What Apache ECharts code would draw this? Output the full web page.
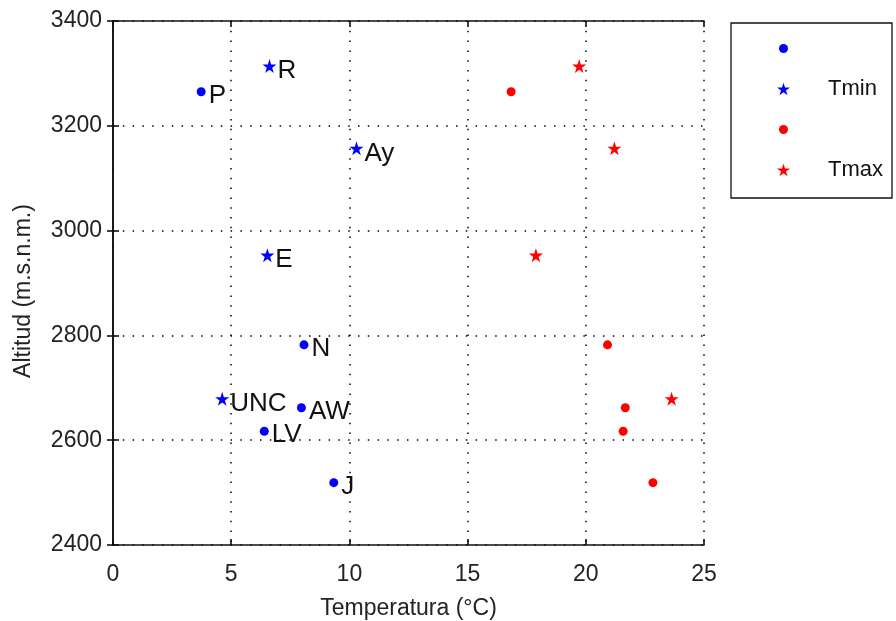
<!DOCTYPE html>
<html>
<head>
<meta charset="utf-8">
<script src="https://cdn.jsdelivr.net/npm/echarts@6/dist/echarts.min.js"></script>
<style>html,body{margin:0;padding:0;background:#fff;}#c{width:896px;height:621px;}</style>
</head>
<body>
<div id="c"></div>
<script>
// ---- data ----
const dotNames   = ['P', 'N', 'AW', 'LV', 'J'];
const dotAlt     = [3265, 2782, 2662, 2617, 2519];
const dotTmin    = [3.73, 8.08, 7.97, 6.40, 9.34];
const dotTmax    = [16.84, 20.92, 21.67, 21.58, 22.84];

const starNames  = ['R', 'Ay', 'E', 'UNC'];
const starAlt    = [3314, 3157, 2953, 2679];
const starTmin   = [6.62, 10.30, 6.53, 4.62];
const starTmax   = [19.72, 21.21, 17.89, 23.63];

const xTicks = [0, 5, 10, 15, 20, 25];
const yTicks = [2400, 2600, 2800, 3000, 3200, 3400];
const legendText = {'Tmin punts': '', 'Tmin': 'Tmin', 'Tmax punts': '', 'Tmax': 'Tmax'};

// ---- chart ----
const STAR = 'path://M100,0 L122.45,69.1 L195.1,69.1 L136.3,111.8 L158.8,180.9 L100,138.2 L41.2,180.9 L63.7,111.8 L4.9,69.1 L77.55,69.1 Z';
// smaller circle inside the legend icon box (padding via bounding move-to points)
const SMALL_CIRCLE = 'path://M0,0 M130,130 M20,65 A45,45 0 1,1 110,65 A45,45 0 1,1 20,65 Z';
const FONT = 'Liberation Sans';
const pts = (xs, ys, names) => xs.map((x, i) => ({ value: [x, ys[i]], name: names ? names[i] : '' }));

const axisCommon = {
  axisLine: { show: true, lineStyle: { color: '#111', width: 1.6 } },
  axisTick: { show: true, inside: true, length: 6, lineStyle: { color: '#111', width: 1.6 } },
};
const dotted = { show: true, lineStyle: { color: '#000', width: 1.5, type: [1.5, 8.3] } };
const chart = echarts.init(document.getElementById('c'), null, { renderer: 'canvas' });
chart.setOption({
  animation: false,
  backgroundColor: '#fff',
  grid: { left: 113, right: 192, top: 21, bottom: 76, containLabel: false, outerBoundsMode: 'none' },
  xAxis: [
    Object.assign({}, axisCommon, {
      type: 'value', min: xTicks[0], max: xTicks[xTicks.length - 1], interval: 5, position: 'bottom',
      name: 'Temperatura (°C)', nameLocation: 'middle', nameGap: 52,
      nameTextStyle: { fontFamily: FONT, fontSize: 23, color: '#222' },
      axisLabel: { fontFamily: FONT, fontSize: 23, color: '#222', margin: 18, formatter: v => String(v) },
      splitLine: dotted
    }),
    Object.assign({}, axisCommon, {
      type: 'value', min: xTicks[0], max: xTicks[xTicks.length - 1], interval: 5, position: 'top',
      axisLabel: { show: false }, splitLine: { show: false }
    })
  ],
  yAxis: [
    Object.assign({}, axisCommon, {
      type: 'value', min: yTicks[0], max: yTicks[yTicks.length - 1], interval: 200, position: 'left',
      name: 'Altitud (m.s.n.m.)', nameLocation: 'middle', nameGap: 78, nameRotate: 90,
      nameTextStyle: { fontFamily: FONT, fontSize: 23, color: '#222', padding: [0, 16, 0, 0] },
      axisLabel: { fontFamily: FONT, fontSize: 23, color: '#222', margin: 11, formatter: v => String(v) },
      splitLine: dotted
    }),
    Object.assign({}, axisCommon, {
      type: 'value', min: yTicks[0], max: yTicks[yTicks.length - 1], interval: 200, position: 'right',
      axisLabel: { show: false }, splitLine: { show: false }
    })
  ],
  legend: {
    orient: 'vertical', left: 731, top: 23,
    padding: [19, 9, 17, 46], itemGap: 23, itemWidth: 13, itemHeight: 13,
    borderColor: '#111', borderWidth: 1.3, backgroundColor: '#fff',
    data: [
      { name: 'Tmin punts', icon: SMALL_CIRCLE },
      { name: 'Tmin', icon: STAR },
      { name: 'Tmax punts', icon: SMALL_CIRCLE },
      { name: 'Tmax', icon: STAR }
    ],
    formatter: n => legendText[n],
    textStyle: { fontFamily: FONT, fontSize: 22, color: '#111', padding: [0, 0, 0, 33] },
    selectedMode: false
  },
  series: [
    {
      name: 'Tmin punts', type: 'scatter', symbol: 'circle', symbolSize: 9,
      itemStyle: { color: '#0000ff', opacity: 1 },
      data: pts(dotTmin, dotAlt, dotNames),
      label: { show: true, position: 'right', distance: 3, offset: [0, 4], formatter: p => p.name,
        fontFamily: FONT, fontSize: 26, color: '#111' }
    },
    {
      name: 'Tmin', type: 'scatter', symbol: STAR, symbolSize: [14, 14],
      itemStyle: { color: '#0000ff', opacity: 1 },
      data: pts(starTmin, starAlt, starNames),
      label: { show: true, position: 'right', distance: 1, offset: [0, 5], formatter: p => p.name,
        fontFamily: FONT, fontSize: 26, color: '#111' }
    },
    {
      name: 'Tmax punts', type: 'scatter', symbol: 'circle', symbolSize: 9,
      itemStyle: { color: '#ff0000', opacity: 1 },
      data: pts(dotTmax, dotAlt)
    },
    {
      name: 'Tmax', type: 'scatter', symbol: STAR, symbolSize: [14, 14],
      itemStyle: { color: '#ff0000', opacity: 1 },
      data: pts(starTmax, starAlt)
    }
  ]
});
</script>
</body>
</html>
